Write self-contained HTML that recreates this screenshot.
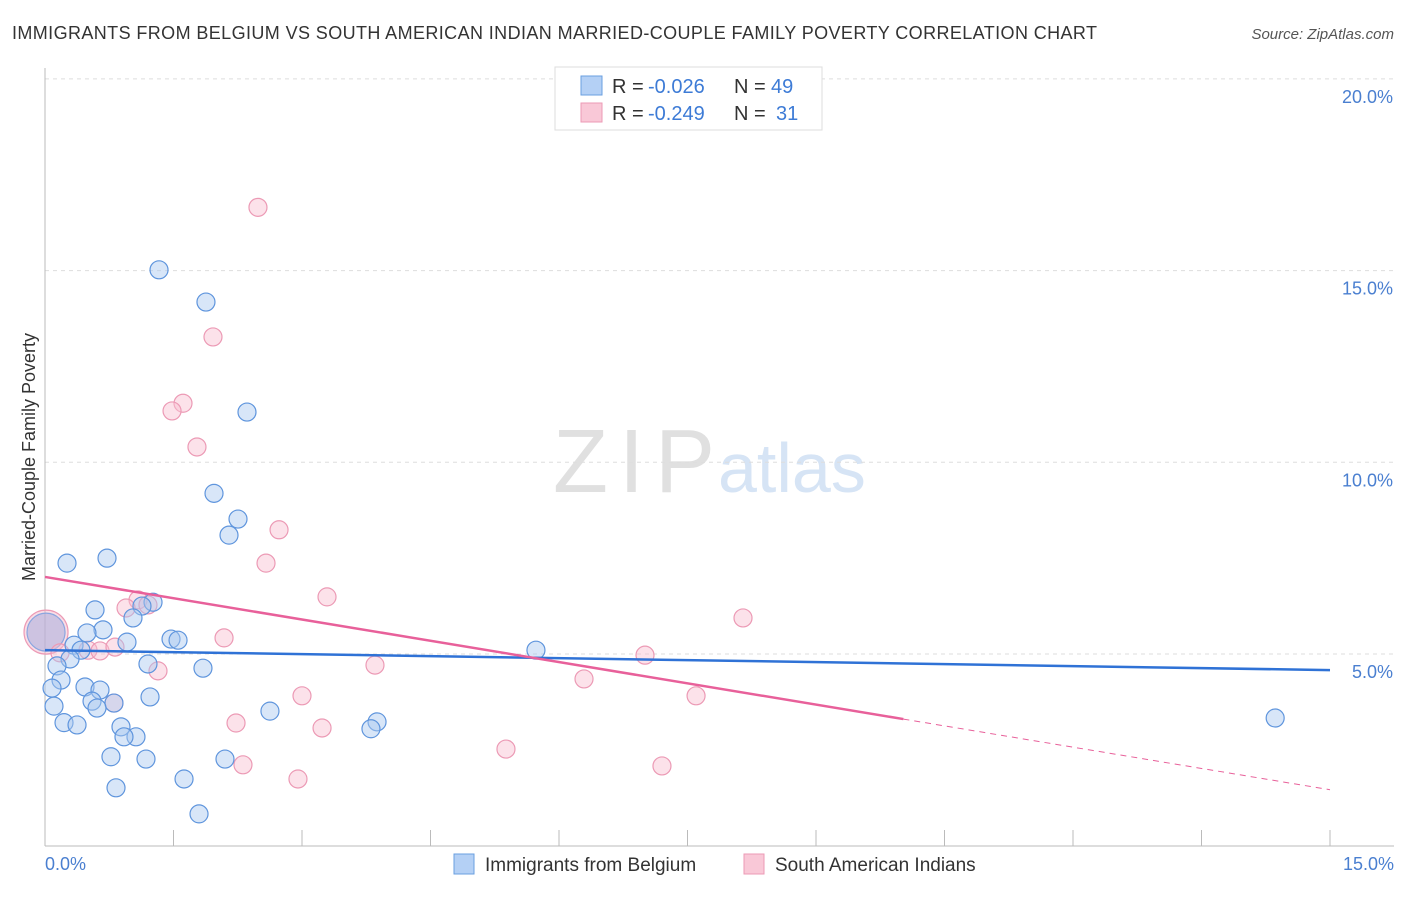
<!DOCTYPE html>
<html><head><meta charset="utf-8"><style>
body{margin:0;background:#fff;font-family:"Liberation Sans",sans-serif;}
svg text{font-family:"Liberation Sans",sans-serif;}
</style></head><body>
<svg width="1406" height="892">
<text x="12" y="39" font-size="18" fill="#333" textLength="1085">IMMIGRANTS FROM BELGIUM VS SOUTH AMERICAN INDIAN MARRIED-COUPLE FAMILY POVERTY CORRELATION CHART</text>
<text x="1394" y="39" font-size="15" fill="#555" text-anchor="end" font-style="italic">Source: ZipAtlas.com</text>
<text x="553" y="492" font-size="90" fill="#e0e0e0" font-family="Liberation Serif" textLength="162">ZIP</text>
<text x="718" y="492" font-size="70" fill="#d6e4f5">atlas</text>
<g id="grid"></g><g id="axes"></g><g id="marks"></g>
<text transform="translate(35,457) rotate(-90)" font-size="18" fill="#333" text-anchor="middle">Married-Couple Family Poverty</text>
<text x="45" y="870" font-size="18" fill="#4a7fd0">0.0%</text>
<text x="1394" y="870" font-size="18" fill="#4a7fd0" text-anchor="end">15.0%</text>
<g>
<rect x="555" y="67" width="267" height="63" fill="#fff" stroke="#ddd"/>
<rect x="581" y="76" width="21" height="19" fill="#b4d0f5" stroke="#6a9fe0"/>
<rect x="581" y="103" width="21" height="19" fill="#f9c8d7" stroke="#ec9ab5"/>
<text x="612" y="93" font-size="20" fill="#333">R =</text>
<text x="648" y="93" font-size="20" fill="#3d7bd6">-0.026</text>
<text x="734" y="93" font-size="20" fill="#333">N =</text>
<text x="771" y="93" font-size="20" fill="#3d7bd6">49</text>
<text x="612" y="120" font-size="20" fill="#333">R =</text>
<text x="648" y="120" font-size="20" fill="#3d7bd6">-0.249</text>
<text x="734" y="120" font-size="20" fill="#333">N =</text>
<text x="776" y="120" font-size="20" fill="#3d7bd6">31</text>
</g>
<g>
<rect x="454" y="854" width="20" height="20" fill="#b4d0f5" stroke="#6a9fe0"/>
<text x="485" y="871" font-size="19" fill="#333">Immigrants from Belgium</text>
<rect x="744" y="854" width="20" height="20" fill="#f9c8d7" stroke="#ec9ab5"/>
<text x="775" y="871" font-size="19" fill="#333">South American Indians</text>
</g>
</svg>
<script>
const yTicks=[5,10,15,20];
const yTickLabels=["5.0%","10.0%","15.0%","20.0%"];
const xTicks=[0,1.5,3,4.5,6,7.5,9,10.5,12,13.5,15];
const blueX=[1.331,1.879,2.358,1.973,2.253,2.148,0.724,0.257,1.261,1.132,0.584,1.027,0.677,0.490,0.957,1.471,1.553,0.339,0.420,5.731,0.292,1.202,0.140,1.844,0.187,0.467,0.082,0.642,1.226,0.549,0.805,0.607,0.105,2.626,0.222,0.374,0.887,3.876,3.805,14.36,1.062,0.922,0.770,1.179,2.101,1.623,0.829,1.798];
const blueY=[15.02,14.18,11.31,9.19,8.52,8.10,7.50,7.37,6.35,6.25,6.15,5.94,5.63,5.55,5.31,5.39,5.36,5.23,5.10,5.10,4.87,4.74,4.69,4.63,4.32,4.14,4.11,4.06,3.88,3.77,3.72,3.59,3.64,3.51,3.21,3.15,3.10,3.23,3.05,3.33,2.84,2.84,2.32,2.26,2.26,1.74,1.51,0.83];
const pinkX=[2.486,1.961,1.611,1.483,1.774,2.732,2.580,3.292,8.148,1.086,0.946,1.202,2.090,0.502,0.642,0.175,0.817,7.004,3.852,1.319,6.292,3.000,7.600,0.805,2.230,3.234,5.381,2.311,7.202,2.953];
const pinkY=[16.65,13.27,11.54,11.34,10.40,8.24,7.37,6.49,5.94,6.41,6.20,6.28,5.42,5.10,5.08,5.03,5.18,4.97,4.71,4.56,4.35,3.91,3.91,3.72,3.20,3.07,2.52,2.11,2.08,1.74];
const bigX=[0.012], bigY=[5.57];
const blueTrend=[5.10,4.58];
const pinkTrend=[7.01,1.46];
const pinkSolidEnd=10.02;
const X=v=>45+v/15*1285, Y=v=>845.7-v/5*191.7;
const NS="http://www.w3.org/2000/svg";
function mk(t,a,p){const e=document.createElementNS(NS,t);for(const k in a)e.setAttribute(k,a[k]);document.getElementById(p).appendChild(e);return e;}
yTicks.forEach((v,i)=>{
 const l=mk('line',{x1:45,x2:1394,y1:Y(v),y2:Y(v),stroke:'#ddd','stroke-dasharray':'4,4'},'grid');
 
 
 const t=mk('text',{x:1393,y:Y(v)+24,'font-size':18,fill:'#4a7fd0','text-anchor':'end'},'grid');
 t.textContent=yTickLabels[i];
 
 
});
const ax=mk('line',{x1:45,x2:45,y1:68,y2:846,stroke:'#bbb'},'axes');


const bx=mk('line',{x1:45,x2:1394,y1:846,y2:846,stroke:'#bbb'},'axes');


xTicks.forEach(v=>{const t=mk('line',{x1:X(v),x2:X(v),y1:830,y2:846,stroke:'#bbb'},'axes');
 
 });
function dot(x,y,r,f,s,name){const c=mk('circle',{cx:X(x),cy:Y(y),r:r,fill:f,stroke:s,'stroke-width':1.2},'marks');
 
 }
bigX.forEach((x,i)=>{dot(x,bigY[i],22,'rgba(245,180,200,0.45)','#ec9ab5','pink-big-point');dot(x,bigY[i],19,'rgba(160,170,220,0.5)','#8aa6e0','blue-big-point');});
pinkX.forEach((x,i)=>dot(x,pinkY[i],9,'rgba(248,190,208,0.45)','#ec9ab5','pink-point'));
blueX.forEach((x,i)=>dot(x,blueY[i],9,'rgba(168,200,240,0.45)','#5f95dd','blue-point'));
const bl=mk('line',{x1:X(0),y1:Y(blueTrend[0]),x2:X(15),y2:Y(blueTrend[1]),stroke:'#2f72d6','stroke-width':2.5},'marks');


const pe=pinkTrend[0]+(pinkTrend[1]-pinkTrend[0])*pinkSolidEnd/15;
const pl=mk('line',{x1:X(0),y1:Y(pinkTrend[0]),x2:X(pinkSolidEnd),y2:Y(pe),stroke:'#e8609a','stroke-width':2.5},'marks');


const pd=mk('line',{x1:X(pinkSolidEnd),y1:Y(pe),x2:X(15),y2:Y(pinkTrend[1]),stroke:'#e8609a','stroke-width':1,'stroke-dasharray':'6,5'},'marks');


</script>
</body></html>
